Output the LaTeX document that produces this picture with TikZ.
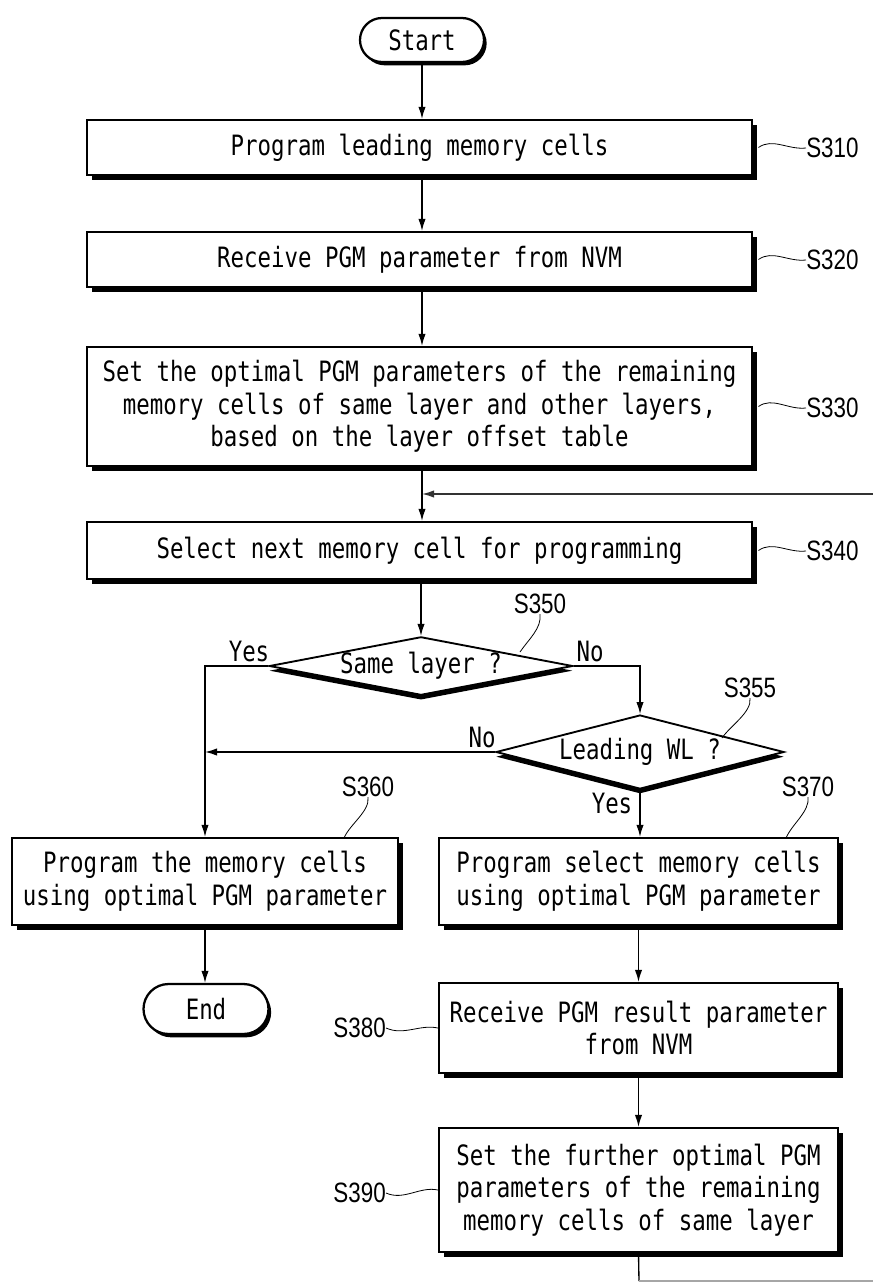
\documentclass[tikz,border=0pt]{standalone}
\usepackage{fontspec}
\newfontfamily\boxfont[FakeStretch=0.8]{DejaVu Sans Mono}
\newfontfamily\tagfont[FakeStretch=0.8]{Liberation Sans}
\usetikzlibrary{shapes.geometric,shapes.misc,shadows,arrows.meta}

\tikzset{
  boxsize/.style 2 args={minimum width=#1*0.75pt, minimum height=#2*0.75pt},
  txt/.style={font=\boxfont\fontsize{21pt}{24.4pt}\selectfont},
  stepbox/.style={txt, draw, rectangle, line width=1.7pt, fill=white, inner sep=0pt, align=center,
    drop shadow={shadow xshift=3.5pt, shadow yshift=-3.5pt, opacity=1, fill=black}},
  decide/.style={txt, draw, diamond, line width=1.4pt, fill=white, inner sep=0pt,
    drop shadow={shadow xshift=0pt, shadow yshift=-3.5pt, opacity=1, fill=black}},
  terminal/.style={txt, draw, rounded rectangle, line width=1.7pt, fill=white, inner sep=0pt,
    drop shadow={shadow xshift=2pt, shadow yshift=-2.5pt, opacity=1, fill=black}},
  tag/.style={font=\tagfont\fontsize{21pt}{24pt}\selectfont, inner sep=0pt},
  answer/.style={txt, inner sep=0pt},
  flow/.style={line width=1pt, -{Latex[length=9pt,width=5.5pt]}},
  plain/.style={line width=1pt},
  leader/.style={line width=0.6pt},
}

\begin{document}
\begin{tikzpicture}[x=0.75pt, y=-0.75pt]
\useasboundingbox (0,0) rectangle (873,1282);

% terminals and process steps
\node[terminal, boxsize={124}{44}] (start) at (422,40) {Start};
\node[stepbox, boxsize={665}{55}] (s310) at (419.5,147.5) {Program leading memory cells};
\node[stepbox, boxsize={665}{55}] (s320) at (419.5,259.5) {Receive PGM parameter from NVM};
\node[stepbox, boxsize={665}{119}] (s330) at (419.5,406.5)
  {Set the optimal PGM parameters of the remaining\\memory cells of same layer and other layers,\\based on the layer offset table};
\node[stepbox, boxsize={665}{57}] (s340) at (419.5,550.5) {Select next memory cell for programming};

% decisions
\node[decide, shape aspect=5.2, boxsize={295}{58}] (d350) at (421,666) {Same layer ?};
\node[decide, shape aspect=3.9, boxsize={288}{74}] (d355) at (640,752) {Leading WL ?};

\node[stepbox, boxsize={386}{87}] (s360) at (205,881.5) {Program the memory cells\\using optimal PGM parameter};
\node[stepbox, boxsize={399}{87}] (s370) at (638.5,881.5) {Program select memory cells\\using optimal PGM parameter};
\node[terminal, boxsize={125}{50}] (end) at (206,1009) {End};
\node[stepbox, boxsize={399}{90}] (s380) at (638.5,1028) {Receive PGM result parameter\\from NVM};
\node[stepbox, boxsize={399}{124}] (s390) at (638.5,1190)
  {Set the further optimal PGM\\parameters of the remaining\\memory cells of same layer};

% loop ends
\coordinate (loopin) at (873,494);
\coordinate (loopjoin) at (422,494);
\coordinate (loopdown) at (639,1281);
\coordinate (loopright) at (873,1281);

% main flow
\draw[flow] (start.south) -- (start.south |- s310.north);
\draw[flow] (s310.south -| start) -- (start |- s320.north);
\draw[flow] (s320.south -| start) -- (start |- s330.north);
\draw[flow] (s330.south -| loopjoin) -- (loopjoin |- s340.north);
\draw[flow, black!80] (loopin) -- (loopjoin);
\draw[flow] (s340.south -| d350.north) -- (d350.north);

% branches
\draw[flow] (d350.west) -| (s360.north);
\draw[flow] (d350.east) -| (d355.north);
\draw[flow] (d355.west) -- (d355.west -| s360.north);
\draw[flow] (d355.south) -- (d355.south |- s370.north);
\draw[flow] (s360.south) -- (s360.south |- end.north);
\draw[flow] (s370.south) -- (s380.north);
\draw[flow] (s380.south) -- (s390.north);
\draw[plain] (s390.south) -- (loopdown);
\draw[line width=0.8pt, black!35] (loopdown) -- (loopright);

% branch answers
\node[answer] (y350) at (249,651) {Yes};
\node[answer] (n350) at (590,651) {No};
\node[answer] (n355) at (482,737) {No};
\node[answer] (y355) at (612,803) {Yes};

% step numbers with leaders
\node[tag, anchor=west] (l310) at (806,148) {S310};
\node[tag, anchor=west] (l320) at (806,260) {S320};
\node[tag, anchor=west] (l330) at (806,408) {S330};
\node[tag, anchor=west] (l340) at (806,551) {S340};
\node[tag] (l350) at (540,604) {S350};
\node[tag] (l355) at (750,688) {S355};
\node[tag] (l360) at (368,787) {S360};
\node[tag] (l370) at (808,787) {S370};
\node[tag, anchor=east] (l380) at (386,1028) {S380};
\node[tag, anchor=east] (l390) at (386,1193) {S390};

\draw[leader] ([xshift=4pt]s310.east) .. controls +(14,-10) and +(-18,2) .. (l310.west);
\draw[leader] ([xshift=4pt]s320.east) .. controls +(14,-10) and +(-18,2) .. (l320.west);
\draw[leader] ([xshift=4pt]s330.east) .. controls +(14,-10) and +(-18,2) .. (l330.west);
\draw[leader] ([xshift=4pt]s340.east) .. controls +(14,-10) and +(-18,2) .. (l340.west);
\draw[leader] (l350.south) .. controls +(2,14) and +(8,-12) .. (520,652);
\draw[leader] (l355.south) .. controls +(2,14) and +(8,-12) .. (722,738);
\draw[leader] (l360.south) .. controls +(2,14) and +(6,-14) .. (344,838);
\draw[leader] (l370.south) .. controls +(2,14) and +(6,-14) .. (786,838);
\draw[leader] (l380.east) .. controls +(18,8) and +(-18,-4) .. (s380.west);
\draw[leader] (l390.east) .. controls +(18,8) and +(-18,-4) .. (s390.west);
\end{tikzpicture}
\end{document}
